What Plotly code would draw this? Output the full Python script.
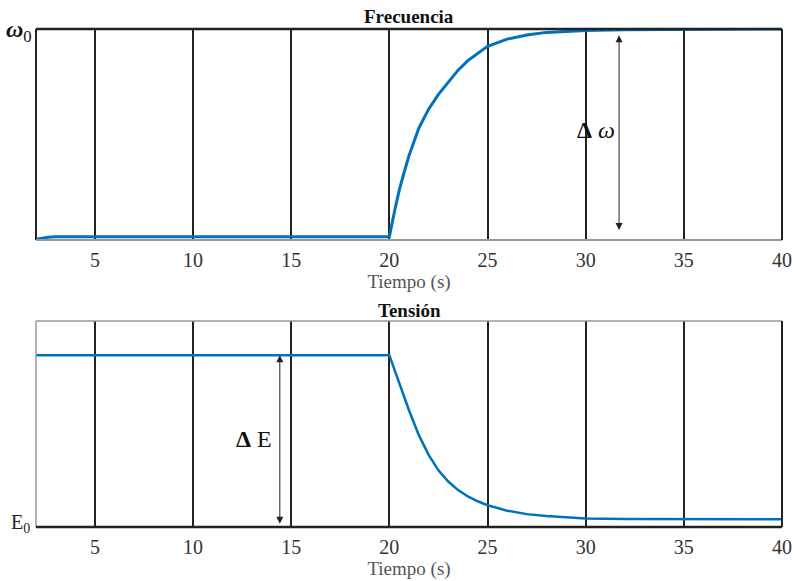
import plotly.graph_objects as go

# Frequency (normalized: 0 = baseline axis, 1 = omega_0)
t_freq = [2, 2.3, 2.6, 3, 4, 10, 15, 20, 20.25, 20.5, 20.75, 21, 21.5, 22, 22.5, 23, 23.5, 24, 24.5, 25, 26, 27, 28,
          29, 30, 32, 35, 40]
v_freq = [0.003, 0.009, 0.013, 0.015, 0.015, 0.015, 0.015, 0.015, 0.13, 0.235, 0.32, 0.40, 0.53, 0.62, 0.69, 0.75,
          0.805, 0.85, 0.885, 0.918, 0.952, 0.972, 0.984, 0.99, 0.993, 0.997, 0.999, 1.0]

# Voltage (normalized: 0 = E_0 axis)
t_volt = [2, 10, 20, 20.25, 20.5, 20.75, 21, 21.5, 22, 22.5, 23, 23.5, 24, 24.5, 25, 26, 27, 28, 30, 32, 35, 40]
v_volt = [1.0, 1.0, 1.0, 0.92, 0.84, 0.755, 0.68, 0.535, 0.42, 0.33, 0.265, 0.215, 0.178, 0.15, 0.127, 0.095,
          0.075, 0.064, 0.05, 0.047, 0.045, 0.045]

x_ticks = [5, 10, 15, 20, 25, 30, 35, 40]
titles = ["Frecuencia", "Tensión"]
x_label = "Tiempo (s)"

BLUE = "#0072BD"
FONT = "Liberation Serif"

fig = go.Figure()
fig.add_trace(go.Scatter(x=t_freq, y=v_freq, mode="lines", line=dict(color=BLUE, width=3),
                         xaxis="x", yaxis="y", cliponaxis=False, showlegend=False))
fig.add_trace(go.Scatter(x=t_volt, y=v_volt, mode="lines", line=dict(color=BLUE, width=2.5),
                         xaxis="x2", yaxis="y2", showlegend=False))

xd = [36 / 794, 782 / 794]
top_dom = [1 - 240 / 581, 1 - 29 / 581]
bot_dom = [1 - 527 / 581, 1 - 321 / 581]

axcommon = dict(range=[2, 40], tickvals=x_ticks, showgrid=True, gridcolor="#222", gridwidth=2,
                zeroline=False, showline=False, ticks="", ticklabelstandoff=6,
                tickfont=dict(family=FONT, size=20, color="#333"),
                title=dict(text=x_label, font=dict(family=FONT, size=19, color="#555"), standoff=2),
                automargin=False, fixedrange=True)

fig.update_layout(
    width=794, height=581, margin=dict(l=0, r=0, t=0, b=0, autoexpand=False),
    paper_bgcolor="white", plot_bgcolor="white",
    xaxis=dict(domain=xd, anchor="y", **axcommon),
    yaxis=dict(domain=top_dom, range=[0, 1], showticklabels=False, showgrid=False, zeroline=False, anchor="x",
               automargin=False),
    xaxis2=dict(domain=xd, anchor="y2", **axcommon),
    yaxis2=dict(domain=bot_dom, range=[0, 1.2], showticklabels=False, showgrid=False, zeroline=False, anchor="x2",
                automargin=False),
)

shapes = []
# top plot borders
shapes += [
    dict(type="line", xref="x domain", yref="y domain", x0=0, x1=1, y0=1, y1=1, line=dict(color="#222", width=2.5)),
    dict(type="line", xref="x domain", yref="y domain", x0=0, x1=0, y0=0, y1=1, line=dict(color="#222", width=2)),
    dict(type="line", xref="x domain", yref="y domain", x0=0, x1=1, y0=0, y1=0, line=dict(color="#999", width=2)),
    dict(type="line", xref="x domain", yref="y domain", x0=1, x1=1, y0=0, y1=1, line=dict(color="#222", width=2)),
]
# bottom plot borders
shapes += [
    dict(type="line", xref="x2 domain", yref="y2 domain", x0=0, x1=1, y0=1, y1=1, line=dict(color="#999", width=1.5)),
    dict(type="line", xref="x2 domain", yref="y2 domain", x0=0, x1=0, y0=0, y1=1, line=dict(color="#999", width=1.5)),
    dict(type="line", xref="x2 domain", yref="y2 domain", x0=0, x1=1, y0=0, y1=0, line=dict(color="#222", width=2.5)),
    dict(type="line", xref="x2 domain", yref="y2 domain", x0=1, x1=1, y0=0, y1=1, line=dict(color="#222", width=2)),
]
fig.update_layout(shapes=shapes)

ann = []
# titles
ann.append(dict(text="<b>" + titles[0] + "</b>", xref="paper", yref="paper", x=409 / 794, y=1 - 16 / 581,
                yanchor="middle", showarrow=False, font=dict(family=FONT, size=19, color="#111")))
ann.append(dict(text="<b>" + titles[1] + "</b>", xref="paper", yref="paper", x=409 / 794, y=1 - 310 / 581,
                yanchor="middle", showarrow=False, font=dict(family=FONT, size=19, color="#111")))
# y labels
ann.append(dict(text="<b><i>ω</i></b><sub>0</sub>", xref="paper", yref="paper", x=4 / 794, y=1 - 31 / 581,
                xanchor="left", yanchor="middle", showarrow=False, font=dict(family=FONT, size=24, color="#111")))
ann.append(dict(text="E<sub>0</sub>", xref="paper", yref="paper", x=9 / 794, y=1 - 523 / 581,
                xanchor="left", yanchor="middle", showarrow=False, font=dict(family=FONT, size=20, color="#222")))
# arrows
ann.append(dict(x=31.7, y=0.97, ax=31.7, ay=0.04, xref="x", yref="y", axref="x", ayref="y", text="",
                showarrow=True, arrowhead=2, startarrowhead=2, arrowside="end+start", arrowsize=1.4,
                arrowwidth=1, arrowcolor="#222"))
ann.append(dict(text="<b>Δ</b> <i>ω</i>", x=31.6, y=0.52, xref="x", yref="y", xanchor="right", yanchor="middle",
                showarrow=False, font=dict(family=FONT, size=24, color="#111")))
ann.append(dict(x=14.42, y=1.0, ax=14.42, ay=0.01, xref="x2", yref="y2", axref="x2", ayref="y2", text="",
                showarrow=True, arrowhead=2, startarrowhead=2, arrowside="end+start", arrowsize=1.4,
                arrowwidth=1, arrowcolor="#222"))
ann.append(dict(text="<b>Δ</b> E", x=14.1, y=0.51, xref="x2", yref="y2", xanchor="right", yanchor="middle",
                showarrow=False, font=dict(family=FONT, size=24, color="#111")))
fig.update_layout(annotations=ann)

fig.write_html("out.html")
